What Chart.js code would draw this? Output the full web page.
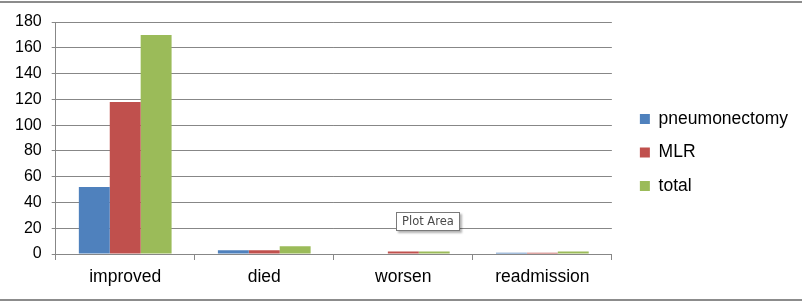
<!DOCTYPE html>
<html>
<head>
<meta charset="utf-8">
<script src="https://cdn.jsdelivr.net/npm/chart.js@4/dist/chart.umd.min.js"></script>
<style>
  html, body { margin: 0; padding: 0; background: #fff; }
  #wrap { position: relative; width: 802px; height: 303px; overflow: hidden; }
  #frame { position: absolute; left: 0; top: 1px; width: 802px; height: 296px;
           border-top: 2px solid #8c8c8c; border-bottom: 2px solid #8c8c8c; pointer-events: none; }
  canvas { position: absolute; left: 0; top: 0; }
  #tip { position: absolute; left: 396px; top: 212px; padding: 1px 5px 2px 5px;
         border: 1px solid #7a7a7a; background: #fff; font: 11.5px "DejaVu Sans", "Liberation Sans", sans-serif;
         color: #4a4a4a; box-shadow: 2px 2px 2px rgba(0,0,0,0.3); white-space: nowrap; }
</style>
</head>
<body>
<div id="wrap">
  <canvas id="c" width="802" height="303"></canvas>
  <div id="frame"></div>
  <div id="tip">Plot Area</div>
</div>
<script>
const categories = ["improved", "died", "worsen", "readmission"];
const pneumonectomy = [52, 3, 0, 1];
const mlr = [118, 3, 2, 1];
const total = [170, 6, 2, 2];
const yTicks = [0, 20, 40, 60, 80, 100, 120, 140, 160, 180];

const gridColor = "#878787";
const fontFam = "'Liberation Sans', Arial, sans-serif";

new Chart(document.getElementById("c"), {
  type: "bar",
  data: {
    labels: categories,
    datasets: [
      { label: "pneumonectomy", data: pneumonectomy, backgroundColor: "#4F81BD", xAxisID: "x", yAxisID: "y" },
      { label: "MLR", data: mlr, backgroundColor: "#C0504D", xAxisID: "x", yAxisID: "y" },
      { label: "total", data: total, backgroundColor: "#9BBB59", xAxisID: "x", yAxisID: "y" }
    ]
  },
  options: {
    responsive: false,
    animation: false,
    devicePixelRatio: 1,
    layout: { padding: { left: 5, right: 4, top: 10, bottom: 8 } },
    datasets: { bar: { categoryPercentage: 0.667, barPercentage: 1.0 } },
    plugins: {
      tooltip: { enabled: false },
      legend: {
        position: "right",
        maxWidth: 220,
        labels: {
          boxWidth: 10, boxHeight: 10, padding: 16, color: "#000",
          font: { family: fontFam, size: 17.5 }
        }
      }
    },
    scales: {
      x: {
        type: "category",
        position: "bottom",
        grid: { offset: true, drawOnChartArea: false, drawTicks: true, tickLength: 6, color: gridColor },
        border: { display: true, color: gridColor, width: 1 },
        ticks: { color: "#000", padding: 7, font: { family: fontFam, size: 17.5 }, maxRotation: 0 }
      },
      xTop: {
        type: "category",
        position: "top",
        display: true,
        grid: { display: false },
        border: { display: false },
        ticks: { display: false },
        afterFit: (s) => { s.height = 12; }
      },
      y: {
        position: "left",
        min: 0, max: 180,
        afterBuildTicks: (s) => { s.ticks = yTicks.map(v => ({ value: v })); },
        grid: { color: gridColor, tickLength: 4, drawTicks: true },
        border: { display: true, color: gridColor, width: 1 },
        ticks: { color: "#000", padding: 10, font: { family: fontFam, size: 16 } }
      },
      yRight: {
        position: "right",
        display: true,
        grid: { display: false },
        border: { display: false },
        ticks: { display: false },
        afterFit: (s) => { s.width = 12; }
      }
    }
  }
});
</script>
</body>
</html>
